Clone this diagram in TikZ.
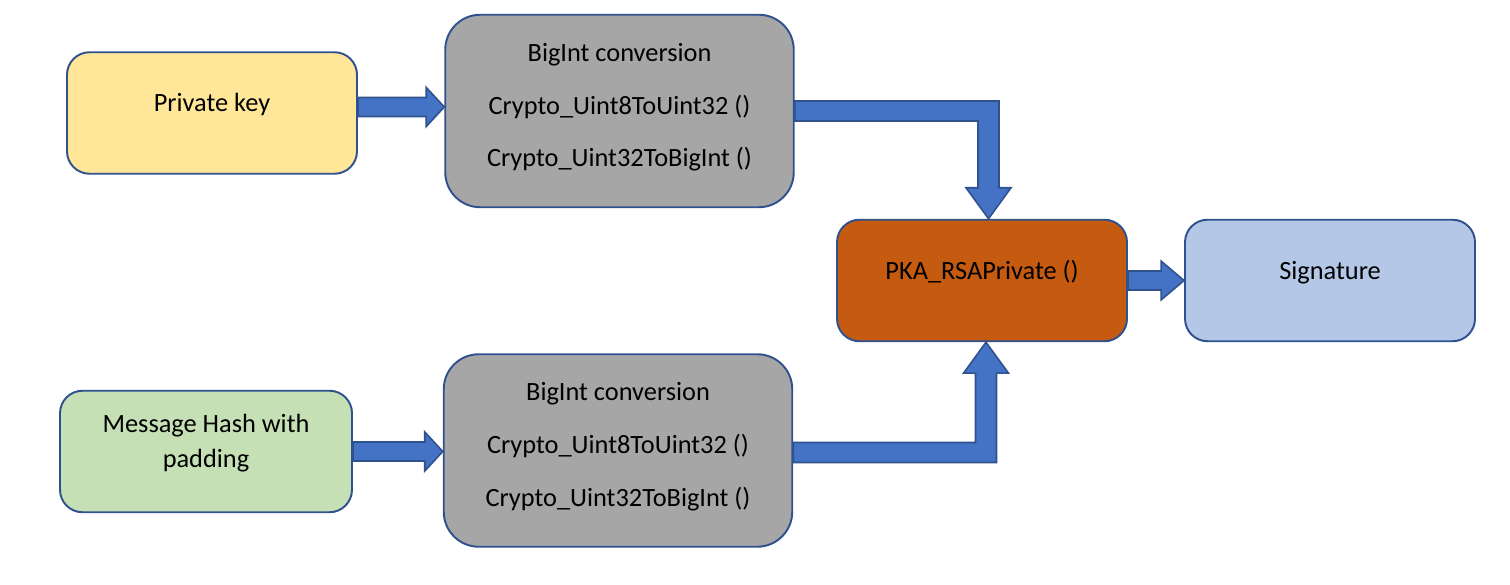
\documentclass[tikz,border=0pt]{standalone}
\usepackage{fontspec}
\setmainfont{Carlito}
\definecolor{boxline}{RGB}{47,82,143}
\definecolor{keyyellow}{RGB}{255,230,153}
\definecolor{convgray}{RGB}{166,166,166}
\definecolor{pkaorange}{RGB}{197,90,17}
\definecolor{siglblue}{RGB}{180,199,231}
\definecolor{hashgreen}{RGB}{197,224,180}
\definecolor{arrowblue}{RGB}{68,114,196}
\usetikzlibrary{positioning,calc}

% straight block arrow: start, end, head length
\newcommand{\hArrow}[3]{%
    \draw[blockarrow] ($(#1)+(0,0.19)$) -- ($(#2)+(-#3,0.19)$) -- ($(#2)+(-#3,0.39)$)
        -- (#2) -- ($(#2)+(-#3,-0.39)$) -- ($(#2)+(-#3,-0.19)$) -- ($(#1)+(0,-0.19)$) -- cycle;}

\begin{document}
\begin{tikzpicture}[
        box/.style={draw=boxline, line width=1.1pt, rounded corners=0.45cm,
            minimum width=5.8cm, minimum height=2.43cm, align=center,
            text depth=0.42cm, font=\fontsize{15}{20}\selectfont},
        convbox/.style={box, fill=convgray, rounded corners=0.7cm,
            minimum width=6.97cm, minimum height=3.85cm,
            text depth=0.24cm, font=\fontsize{15}{30}\selectfont},
        blockarrow/.style={draw=boxline, fill=arrowblue, line width=0.9pt, line join=miter}]
    \useasboundingbox (0,0) rectangle (30.2,11.7);

    \node[box, fill=keyyellow] (pkey) at (4.24,9.44) {Private key};
    \node[convbox] (conv1) at (12.39,9.48)
        {BigInt conversion\\Crypto\_Uint8ToUint32 ()\\Crypto\_Uint32ToBigInt ()};
    \node[box, fill=pkaorange] (pka) at (19.64,6.09) {PKA\_RSAPrivate ()};
    \node[box, fill=siglblue] (sig) at (26.6,6.09) {Signature};
    \node[box, fill=hashgreen, minimum width=5.84cm] (hash) at (4.12,2.67)
        {Message Hash with\\padding};
    \node[convbox] (conv2) at (12.36,2.69)
        {BigInt conversion\\Crypto\_Uint8ToUint32 ()\\Crypto\_Uint32ToBigInt ()};

    % straight arrows
    \coordinate (a1s) at ($(pkey.east)+(0,0.12)$);
    \coordinate (a1e) at (a1s -| conv1.west);
    \hArrow{a1s}{a1e}{0.36}
    \hArrow{hash.east}{hash.east -| conv2.west}{0.36}
    \hArrow{pka.east}{pka.east -| sig.west}{0.46}

    % elbow arrows into PKA
    \coordinate (k1) at ($(pka.north)+(0.13,0)$);
    \coordinate (c1) at (k1 |- conv1.east);
    \draw[blockarrow] ($(conv1.east)+(0,0.2)$) -- ($(c1)+(0.21,0.2)$) -- ($(k1)+(0.21,0.62)$)
        -- ($(k1)+(0.45,0.62)$) -- (k1) -- ($(k1)+(-0.45,0.62)$) -- ($(k1)+(-0.21,0.62)$)
        -- ($(c1)+(-0.21,-0.2)$) -- ($(conv1.east)+(0,-0.2)$) -- cycle;
    \coordinate (k2) at ($(pka.south)+(0.08,0)$);
    \coordinate (c2) at ($(k2 |- conv2.east)+(0,-0.04)$);
    \draw[blockarrow] ($(conv2.east)+(0,-0.24)$) -- ($(c2)+(0.21,-0.2)$) -- ($(k2)+(0.21,-0.62)$)
        -- ($(k2)+(0.45,-0.62)$) -- (k2) -- ($(k2)+(-0.45,-0.62)$) -- ($(k2)+(-0.21,-0.62)$)
        -- ($(c2)+(-0.21,0.2)$) -- ($(conv2.east)+(0,0.16)$) -- cycle;
\end{tikzpicture}
\end{document}
